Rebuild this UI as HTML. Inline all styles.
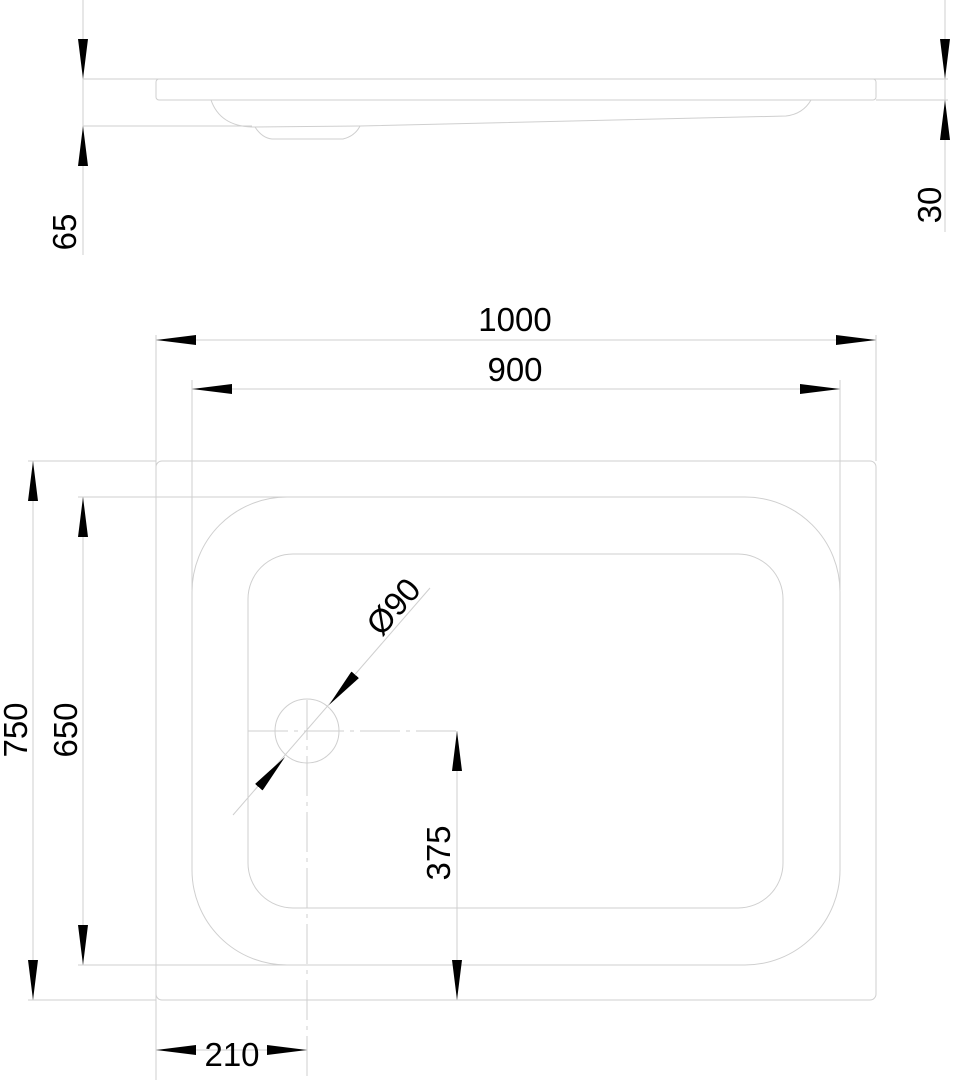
<!DOCTYPE html>
<html><head><style>html,body{margin:0;padding:0;background:#fff}svg{display:block}</style></head>
<body>
<svg width="955" height="1080" viewBox="0 0 955 1080" xmlns="http://www.w3.org/2000/svg" font-family="Liberation Sans, sans-serif">
<defs>
<marker id="a" viewBox="0 0 40 10" refX="40" refY="5" markerWidth="40" markerHeight="10" markerUnits="userSpaceOnUse" orient="auto"><path d="M0,0 L40,5 L0,10 Z" fill="#000"/></marker>
</defs>
<g fill="none" stroke="#cfcfcf" stroke-width="1">
<line x1="83" y1="0" x2="83" y2="255"/>
<line x1="945" y1="0" x2="945" y2="232"/>
<line x1="83" y1="79" x2="948" y2="79"/>
<line x1="876" y1="100" x2="948" y2="100"/>
<line x1="83" y1="126" x2="252" y2="126"/>
<rect x="156" y="79" width="720" height="21" rx="3"/>
<path d="M211,100 Q220,126 252,127 L360,126 L786,116 Q803,114 811,100"/>
<path d="M255,127 Q262,138 272,139 L343,139 Q355,136 360,126"/>
<rect x="156" y="461" width="720" height="539" rx="6"/>
<rect x="192" y="497" width="648" height="468" rx="95"/>
<rect x="248" y="554" width="535" height="354" rx="45"/>
<circle cx="307" cy="731" r="32"/>
<line x1="156" y1="335" x2="156" y2="1080"/>
<line x1="876" y1="335" x2="876" y2="461"/>
<line x1="192" y1="380" x2="192" y2="590"/>
<line x1="840" y1="380" x2="840" y2="590"/>
<line x1="28" y1="461" x2="156" y2="461"/>
<line x1="28" y1="1000" x2="156" y2="1000"/>
<line x1="78" y1="497" x2="289" y2="497"/>
<line x1="78" y1="965" x2="289" y2="965"/>
<line x1="248" y1="731" x2="462" y2="731" stroke-dasharray="40,6,4,6"/>
<line x1="307" y1="700" x2="307" y2="1080" stroke-dasharray="40,6,4,6"/>
<line x1="233" y1="815" x2="430" y2="588"/>
<line x1="156" y1="340" x2="876" y2="340"/>
<line x1="192" y1="389" x2="840" y2="389"/>
<line x1="33" y1="461" x2="33" y2="1000"/>
<line x1="83" y1="497" x2="83" y2="965"/>
<line x1="457" y1="731" x2="457" y2="1000"/>
<line x1="156" y1="1050" x2="307" y2="1050"/>
</g>
<g stroke="none">
<line x1="83" y1="39" x2="83" y2="79" marker-end="url(#a)"/>
<line x1="83" y1="166" x2="83" y2="126" marker-end="url(#a)"/>
<line x1="945" y1="39" x2="945" y2="79" marker-end="url(#a)"/>
<line x1="945" y1="140" x2="945" y2="100" marker-end="url(#a)"/>
<line x1="196" y1="340" x2="156" y2="340" marker-end="url(#a)"/>
<line x1="836" y1="340" x2="876" y2="340" marker-end="url(#a)"/>
<line x1="232" y1="389" x2="192" y2="389" marker-end="url(#a)"/>
<line x1="800" y1="389" x2="840" y2="389" marker-end="url(#a)"/>
<line x1="33" y1="501" x2="33" y2="461" marker-end="url(#a)"/>
<line x1="33" y1="960" x2="33" y2="1000" marker-end="url(#a)"/>
<line x1="83" y1="537" x2="83" y2="497" marker-end="url(#a)"/>
<line x1="83" y1="925" x2="83" y2="965" marker-end="url(#a)"/>
<line x1="457" y1="771" x2="457" y2="731" marker-end="url(#a)"/>
<line x1="457" y1="960" x2="457" y2="1000" marker-end="url(#a)"/>
<line x1="196" y1="1050" x2="156" y2="1050" marker-end="url(#a)"/>
<line x1="267" y1="1050" x2="307" y2="1050" marker-end="url(#a)"/>
<line x1="355" y1="675" x2="329" y2="705" marker-end="url(#a)"/>
<line x1="259" y1="787" x2="285" y2="757" marker-end="url(#a)"/>
</g>
<g font-size="33" fill="#000">
<text x="515" y="331" text-anchor="middle">1000</text>
<text x="515" y="381" text-anchor="middle">900</text>
<text x="232" y="1066" text-anchor="middle">210</text>
<text transform="translate(76,232) rotate(-90)" text-anchor="middle">65</text>
<text transform="translate(941,205) rotate(-90)" text-anchor="middle">30</text>
<text transform="translate(27,730) rotate(-90)" text-anchor="middle">750</text>
<text transform="translate(77,730) rotate(-90)" text-anchor="middle">650</text>
<text transform="translate(450,853) rotate(-90)" text-anchor="middle">375</text>
<text transform="translate(402,614) rotate(-49)" text-anchor="middle">Ø90</text>
</g>
</svg>
</body></html>
